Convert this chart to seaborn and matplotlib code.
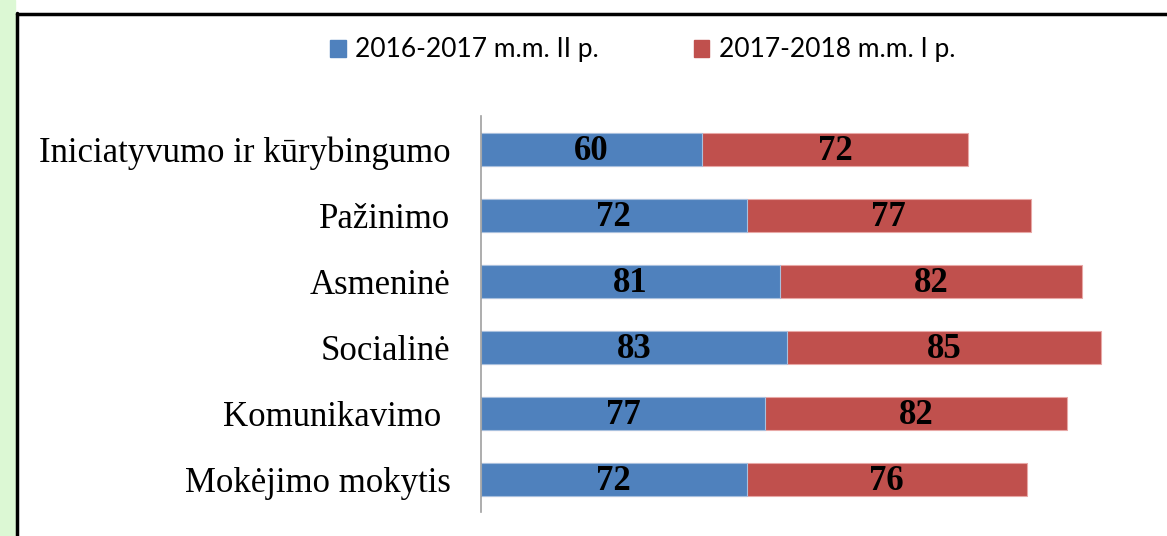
import matplotlib
matplotlib.use("Agg")
import matplotlib.pyplot as plt
import matplotlib.patches as mpatches
import seaborn as sns
import pandas as pd

# data
categories = ["Iniciatyvumo ir kūrybingumo", "Pažinimo", "Asmeninė",
              "Socialinė", "Komunikavimo ", "Mokėjimo mokytis"]
vals_2016 = [60, 72, 81, 83, 77, 72]
vals_2017 = [72, 77, 82, 85, 82, 76]
series_names = ["2016-2017 m.m. II p.", "2017-2018 m.m. I p."]

blue = "#4f81bd"
red = "#c0504d"

df = pd.DataFrame({"kat": categories, "a": vals_2016, "b": vals_2017})
df["total"] = df["a"] + df["b"]

sns.set_style("white")
plt.rcParams["text.color"] = "black"
plt.rcParams["ytick.color"] = "black"
fig = plt.figure(figsize=(11.67, 5.36), dpi=100)
fig.patch.set_facecolor("white")

# light green strip on the left and the black frame
fig.add_artist(mpatches.Rectangle((0, 0), 15 / 1167, 1, transform=fig.transFigure,
                                  color="#dcf8d4", zorder=0))
fig.add_artist(plt.Line2D([16.5 / 1167, 16.5 / 1167], [0, 1 - 13 / 536],
                          transform=fig.transFigure, color="black", lw=2.5))
fig.add_artist(plt.Line2D([16.5 / 1167, 1], [1 - 13.5 / 536, 1 - 13.5 / 536],
                          transform=fig.transFigure, color="black", lw=2.5))

ax = fig.add_axes([481 / 1167, 1 - 512 / 536, 1 - 481 / 1167, (512 - 116) / 536])

# stacked: draw the totals in red, then the first period in blue over them
sns.barplot(data=df, x="total", y="kat", color=red, orient="h", width=0.5,
            saturation=1, ax=ax, edgecolor="#e8a8a6", linewidth=0.8)
sns.barplot(data=df, x="a", y="kat", color=blue, orient="h", width=0.5,
            saturation=1, ax=ax, edgecolor="#a8c0de", linewidth=0.8)

for i, row in df.iterrows():
    ax.text(row["a"] / 2, i + 0.04, str(row["a"]), ha="center", va="center",
            fontsize=25, fontweight="bold", family="Liberation Serif", color="black")
    ax.text(row["a"] + row["b"] / 2, i + 0.04, str(row["b"]), ha="center", va="center",
            fontsize=25, fontweight="bold", family="Liberation Serif", color="black")

ax.set_xlim(0, 186)
ax.set_ylim(5.5, -0.5)
ax.set_xlabel("")
ax.set_ylabel("")
ax.set_xticks([])
for s in ["top", "right", "bottom"]:
    ax.spines[s].set_visible(False)
ax.spines["left"].set_color("#a0a0a0")
ax.spines["left"].set_linewidth(1.2)
ax.tick_params(axis="y", length=0, pad=22, colors="black")
for lab in ax.get_yticklabels():
    lab.set_fontfamily("Liberation Serif")
    lab.set_fontsize(25)

handles = [mpatches.Patch(color=blue, label=series_names[0]),
           mpatches.Patch(color=red, label=series_names[1])]
fig.legend(handles=handles, loc="center left", bbox_to_anchor=(306 / 1167, 1 - 50 / 536),
           ncol=2, frameon=False, handlelength=0.6, handleheight=0.6,
           handletextpad=0.35, columnspacing=3.6,
           prop={"family": "Lato", "size": 19})

fig.savefig("out.png", dpi=100)
